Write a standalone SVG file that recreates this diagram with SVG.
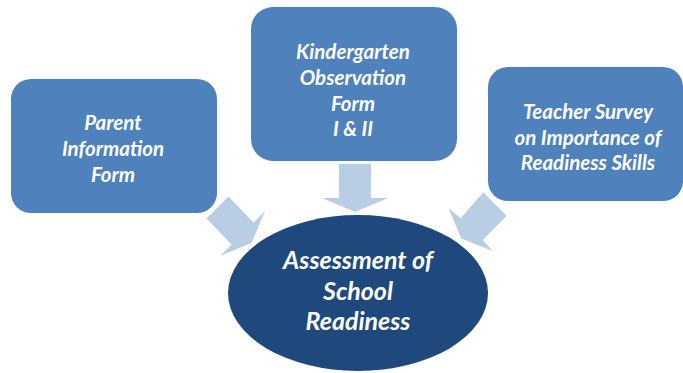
<svg xmlns="http://www.w3.org/2000/svg" width="683" height="373" viewBox="0 0 683 373">
<style>
.box{fill:#4F81BD;}
.arr{fill:#B9CDE5;}
.ell{fill:#1F497D;}
text{font-family:Lato,"Open Sans","Liberation Sans",sans-serif;font-weight:bold;font-style:italic;fill:#FFFFFF;text-anchor:middle;}
.t{font-size:20.5px;}
.e{font-size:25px;}
</style>
<rect width="683" height="373" fill="#FFFFFF"/>
<g id="connectors">
<polygon class="arr" points="339,164 371,164 371,198 388,198 355,212 322,198 339,198"/>
<polygon class="arr" points="228.5,196.5 253.5,222.5 265,211 251.7,242.7 220,256 231.5,244.5 206.5,218.5"/>
<polygon class="arr" points="483.3,192.3 506.7,215.7 482.7,240 492.7,251 461.3,238.5 448.3,207.7 460.7,218.3"/>
</g>
<g id="parent">
<rect class="box" x="11" y="79" width="206" height="134" rx="20"/>
<text class="t" x="113" y="130">Parent</text>
<text class="t" x="113" y="156">Information</text>
<text class="t" x="113" y="182">Form</text>
</g>
<g id="kindergarten">
<rect class="box" x="251" y="7" width="206" height="154" rx="22"/>
<text class="t" x="353" y="59">Kindergarten</text>
<text class="t" x="353" y="85">Observation</text>
<text class="t" x="353" y="111">Form</text>
<text class="t" x="353" y="136">I &amp; II</text>
</g>
<g id="teacher">
<rect class="box" x="488" y="67" width="195" height="134" rx="20"/>
<text class="t" x="588" y="119">Teacher Survey</text>
<text class="t" x="588" y="145">on Importance of</text>
<text class="t" x="588" y="170">Readiness Skills</text>
</g>
<g id="assessment">
<ellipse class="ell" cx="358" cy="293" rx="130" ry="78"/>
<text class="e" x="358" y="269">Assessment of</text>
<text class="e" x="358" y="300">School</text>
<text class="e" x="358" y="330">Readiness</text>
</g>
</svg>
